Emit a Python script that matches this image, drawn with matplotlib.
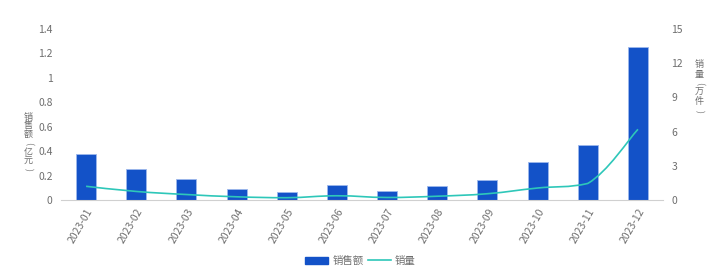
import numpy as np
import matplotlib.pyplot as plt
from matplotlib.path import Path
from matplotlib.patches import PathPatch
from matplotlib.lines import Line2D

plt.rcParams['font.family'] = ['Noto Sans CJK SC', 'DejaVu Sans']

months = ['2023-01', '2023-02', '2023-03', '2023-04', '2023-05', '2023-06',
          '2023-07', '2023-08', '2023-09', '2023-10', '2023-11', '2023-12']
sales = [0.375, 0.25, 0.17, 0.09, 0.065, 0.125, 0.075, 0.115, 0.165, 0.31, 0.45, 1.25]
volume = [1.2, 0.75, 0.48, 0.28, 0.2, 0.37, 0.22, 0.33, 0.55, 1.05, 1.45, 6.2]

bar_color = '#1352c8'
line_color = '#2ec7b9'
txt = '#6e6e6e'


def smooth_path(x, y, k=0.2):
    # cubic bezier through every point, control points kept inside each segment
    x = np.asarray(x, float)
    y = np.asarray(y, float)
    verts = [(x[0], y[0])]
    codes = [Path.MOVETO]
    n = len(x)
    for i in range(n - 1):
        p0 = max(i - 1, 0)
        p3 = min(i + 2, n - 1)
        lo, hi = min(y[i], y[i + 1]), max(y[i], y[i + 1])
        c1y = np.clip(y[i] + k * (y[i + 1] - y[p0]), lo, hi)
        c2y = np.clip(y[i + 1] - k * (y[p3] - y[i]), lo, hi)
        c1 = (x[i] + k * (x[i + 1] - x[p0]), c1y)
        c2 = (x[i + 1] - k * (x[p3] - x[i]), c2y)
        verts += [c1, c2, (x[i + 1], y[i + 1])]
        codes += [Path.CURVE4] * 3
    return Path(verts, codes)


def vertical_name(fig, text, x_px, y0_px, step=8.8):
    # echarts-style vertical axis name: one upright character per line
    for i, ch in enumerate(text):
        rot = -90 if ch in '()' else 0
        fig.text(x_px / 721, 1 - (y0_px + i * step) / 279, ch, ha='center', va='center',
                 fontsize=6.5, color=txt, rotation=rot)


fig = plt.figure(figsize=(7.21, 2.79), dpi=100)
ax = fig.add_axes([0.0846, 0.2832, 0.835, 0.613])
ax2 = ax.twinx()

xs = np.arange(len(months))
ax.bar(xs, sales, width=0.4, color=bar_color, edgecolor='#9db8ec', linewidth=0.6, zorder=2)
ax.set_xlim(-0.5, len(months) - 0.5)
ax.set_ylim(0, 1.4)
ax.set_yticks([0, 0.2, 0.4, 0.6, 0.8, 1.0, 1.2, 1.4])
ax.set_yticklabels(['0', '0.2', '0.4', '0.6', '0.8', '1', '1.2', '1.4'])
ax.set_xticks(xs)
ax.set_xticklabels(months, rotation=60, ha='right', rotation_mode='anchor')

ax2.set_ylim(0, 15)
ax2.set_yticks([0, 3, 6, 9, 12, 15])
ax2.add_patch(PathPatch(smooth_path(xs, volume), facecolor='none',
                        edgecolor=line_color, linewidth=1.2, zorder=3))

for a in (ax, ax2):
    for s in a.spines.values():
        s.set_visible(False)
    a.tick_params(length=0, labelsize=7.5, colors=txt, pad=6)
ax.spines['bottom'].set_visible(True)
ax.spines['bottom'].set_color('#d0d0d0')
ax.tick_params(axis='x', pad=5)

vertical_name(fig, '销售额(亿元)', 28, 117)
vertical_name(fig, '销量(万件)', 699, 65, step=9.2)

handles = [plt.Rectangle((0, 0), 1, 1, color=bar_color),
           Line2D([0], [0], color=line_color, linewidth=1.2)]
fig.legend(handles, ['销售额', '销量'], loc='center', bbox_to_anchor=(0.5, 0.065),
           ncol=2, frameon=False, fontsize=7.5, labelcolor=txt, handlelength=2.2,
           handleheight=0.6, handletextpad=0.4, columnspacing=0.4)

fig.savefig('out.png', dpi=100)
